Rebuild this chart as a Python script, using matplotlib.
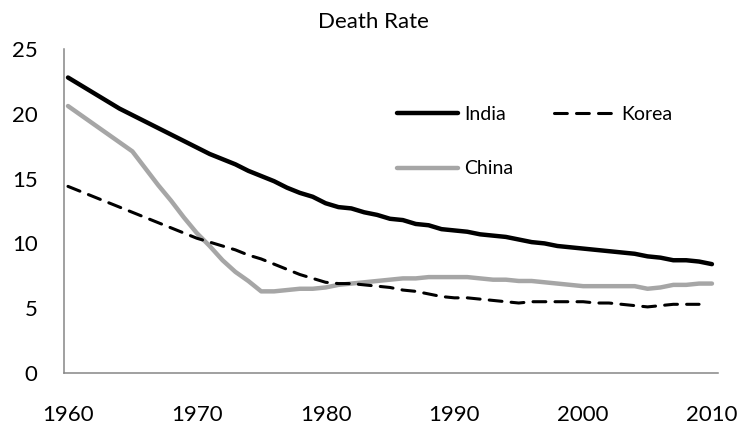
import numpy as np
import matplotlib
matplotlib.use("Agg")
import matplotlib.pyplot as plt

plt.rcParams["font.family"] = ["Lato", "DejaVu Sans"]

years = list(range(1960, 2011))
korea_years = list(range(1960, 2010))

india = [22.8, 22.2, 21.6, 21.0, 20.4, 19.9, 19.4, 18.9, 18.4, 17.9,
         17.4, 16.9, 16.5, 16.1, 15.6, 15.2, 14.8, 14.3, 13.9, 13.6,
         13.1, 12.8, 12.7, 12.4, 12.2, 11.9, 11.8, 11.5, 11.4, 11.1,
         11.0, 10.9, 10.7, 10.6, 10.5, 10.3, 10.1, 10.0, 9.8, 9.7,
         9.6, 9.5, 9.4, 9.3, 9.2, 9.0, 8.9, 8.7, 8.7, 8.6,
         8.4]

china = [20.6, 19.9, 19.2, 18.5, 17.8, 17.1, 15.8, 14.5, 13.3, 12.0,
         10.8, 9.8, 8.7, 7.8, 7.1, 6.3, 6.3, 6.4, 6.5, 6.5,
         6.6, 6.8, 6.9, 7.0, 7.1, 7.2, 7.3, 7.3, 7.4, 7.4,
         7.4, 7.4, 7.3, 7.2, 7.2, 7.1, 7.1, 7.0, 6.9, 6.8,
         6.7, 6.7, 6.7, 6.7, 6.7, 6.5, 6.6, 6.8, 6.8, 6.9,
         6.9]

korea = [14.4, 14.0, 13.6, 13.2, 12.8, 12.4, 12.0, 11.6, 11.2, 10.8,
         10.4, 10.1, 9.8, 9.5, 9.1, 8.8, 8.4, 8.0, 7.6, 7.3,
         7.0, 6.9, 6.9, 6.8, 6.7, 6.6, 6.4, 6.3, 6.1, 5.9,
         5.8, 5.8, 5.7, 5.6, 5.5, 5.4, 5.5, 5.5, 5.5, 5.5,
         5.5, 5.4, 5.4, 5.3, 5.2, 5.1, 5.2, 5.3, 5.3, 5.3]

fig = plt.figure(figsize=(7.41, 4.25), dpi=100)
ax = fig.add_axes([64 / 741, 1 - 373 / 425, (718 - 64) / 741, (373 - 49) / 425])

l_india, = ax.plot(years, india, color="black", linewidth=3.2, solid_joinstyle="round",
                   solid_capstyle="round", label="India")
l_china, = ax.plot(years, china, color="#a6a6a6", linewidth=3.2, solid_joinstyle="round",
                   solid_capstyle="round", label="China")
l_korea, = ax.plot(korea_years, korea, color="black", linewidth=2.2, dashes=(4.2, 3.0),
                   dash_capstyle="round", label="Korea")

ax.set_xlim(1959.69, 2010.47)
ax.set_ylim(0, 25)
ax.set_xticks([1960, 1970, 1980, 1990, 2000, 2010])
ax.set_yticks([0, 5, 10, 15, 20, 25])
ax.tick_params(axis="both", length=0, labelsize=16)
ax.tick_params(axis="y", pad=19)
ax.tick_params(axis="x", pad=23)

for s in ["top", "right"]:
    ax.spines[s].set_visible(False)
for s in ["left", "bottom"]:
    ax.spines[s].set_color("#868686")
    ax.spines[s].set_linewidth(1.1)

fig.text(373 / 741, 1 - 22 / 425, "Death Rate", ha="center", va="center", fontsize=16)

ax.legend(handles=[l_india, l_china, l_korea], ncol=2, frameon=False,
          loc="center left", bbox_to_anchor=(397 / 741, 1 - 141.5 / 425),
          bbox_transform=fig.transFigure, fontsize=14, borderpad=0,
          borderaxespad=0, handlelength=3.14, handletextpad=0.31,
          columnspacing=2.1, labelspacing=1.94)

fig.savefig("out.png", dpi=100)
